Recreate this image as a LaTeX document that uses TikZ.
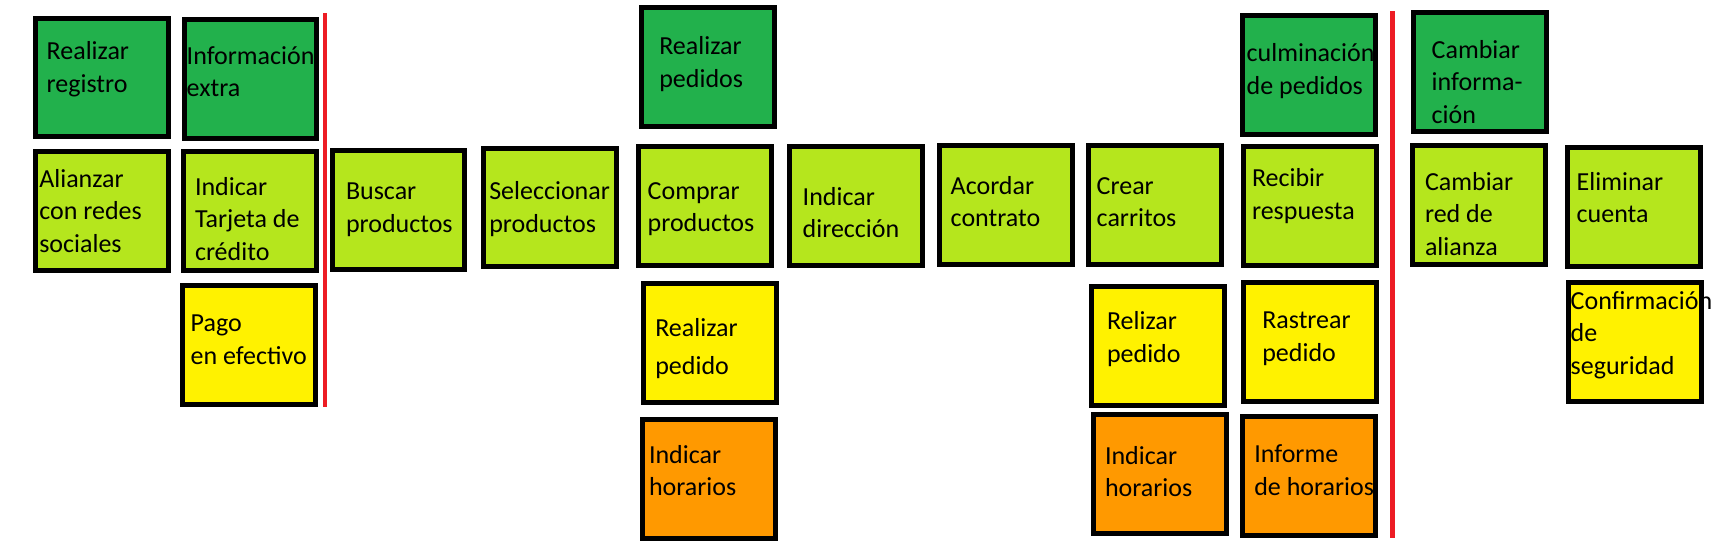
\documentclass[tikz,border=0pt]{standalone}
\usepackage{fontspec}
\setmainfont{Carlito}
\definecolor{dkgreen}{HTML}{22B14C}
\definecolor{ltgreen}{HTML}{B5E61D}
\definecolor{stickyyellow}{HTML}{FFF200}
\definecolor{stickyorange}{HTML}{FF9900}
\definecolor{sepred}{HTML}{ED1C24}
\tikzset{
  card/.style={rectangle, draw=black, line width=5pt, inner sep=0pt, outer sep=0pt,
               minimum width=133pt, minimum height=119pt},
  dg/.style={card, fill=dkgreen},
  lg/.style={card, fill=ltgreen},
  yl/.style={card, fill=stickyyellow},
  og/.style={card, fill=stickyorange},
  rim/.style={draw=black, line width=5pt},
  txt/.style={anchor=base west, inner sep=0pt, outer sep=0pt, align=left,
              font=\fontsize{26}{32.5}\selectfont},
  wide/.style={font=\fontsize{26}{38.3}\selectfont},
  sepline/.style={draw=sepred, line width=4.5pt}
}
\begin{document}
\begin{tikzpicture}[x=1pt,y=-1pt]
\useasboundingbox (0,0) rectangle (1716,550);
\fill[white] (0,0) rectangle (1716,550);
% boxes
\node[dg] (reg) at (102,77.5) [minimum height=118pt] {};
\node[dg] (info) at (250.5,79) [minimum width=132pt] {};
\node[lg] (alian) at (102,211) {};
\node[lg] (tarj) at (250,211) {};
\node[yl] (pago) at (249,345) {};
\node[lg] (buscar) at (398.5,210) [minimum width=132pt] {};
\node[lg] (selec) at (550,207.5) [minimum height=118pt] {};
\node[dg] (rpedidos) at (708,67) {};
\node[lg] (comprar) at (705,206) {};
\node[yl] (rpedido) at (710,343) {};
\node[og] (ihor1) at (709,479) {};
\node[lg] (idir) at (856,206) {};
\node[lg] (acordar) at (1006,205) {};
\node[lg] (crear) at (1155,205) {};
\node[yl] (relizar) at (1158,346) {};
\node[og] (ihor2) at (1160,474) {};
\node[dg] (culm) at (1309,75) {};
\node[lg] (recibir) at (1310,206) {};
\node[yl] (rastrear) at (1310,342) {};
\node[og] (informe) at (1309,476) {};
\node[dg] (cinfo) at (1480,72) {};
\node[lg] (cred) at (1479,205) {};
\node[lg] (elim) at (1634,207) {};
\node[yl] (confirm) at (1635,342) {};
% separators
\coordinate (s1t) at (325,13);
\coordinate (s1b) at (325,407);
\coordinate (s2t) at (1392.7,11);
\coordinate (s2b) at (1392.7,538);
\draw[sepline] (s1t) -- (s1b);
\draw[sepline] (s2t) -- (s2b);
% texts (anchored at the baseline of the last line)
\node[txt] (treg) at (46.7,92) {Realizar\\registro};
\node[txt] (tinfo) at (186.7,96.7) {Información\\extra};
\node[txt] (talian) at (39.3,252.3) {Alianzar\\con redes\\sociales};
\node[txt] (ttarj) at (195,260) {Indicar\\Tarjeta de\\crédito};
\node[txt] (tpago) at (190.7,364.3) {Pago\\en efectivo};
\node[txt] (tbuscar) at (346,232.3) {Buscar\\productos};
\node[txt] (tselec) at (489.3,232.3) {Seleccionar\\productos};
\node[txt] (trpedidos) at (659.3,87.3) {Realizar\\pedidos};
\node[txt] (tcomprar) at (647.7,231.7) {Comprar\\productos};
\node[txt,wide] (trpedido) at (655.3,374.3) {Realizar\\pedido};
\node[txt] (tihor1) at (649,495.7) {Indicar\\horarios};
\node[txt] (tidir) at (802.7,237.7) {Indicar\\dirección};
\node[txt] (tacordar) at (950.7,226.7) {Acordar\\contrato};
\node[txt] (tcrear) at (1096.7,226.7) {Crear\\carritos};
\node[txt] (trelizar) at (1107,362.3) {Relizar\\pedido};
\node[txt] (tihor2) at (1105,496.7) {Indicar\\horarios};
\node[txt] (tculm) at (1246.7,94.3) {culminación\\de pedidos};
\node[txt] (trecibir) at (1252,219.3) {Recibir\\respuesta};
\node[txt] (trastrear) at (1262.3,361) {Rastrear\\pedido};
\node[txt] (tinforme) at (1254.3,495) {Informe\\de horarios};
\node[txt] (tcinfo) at (1431.7,123.3) {Cambiar\\informa-\\ción};
\node[txt] (tcred) at (1425,255) {Cambiar\\red de\\alianza};
\node[txt] (telim) at (1576.7,222.7) {Eliminar\\cuenta};
\node[txt] (tconfirm) at (1570.7,374.3) {Confirmación\\de\\seguridad};
% borders that cover overflowing text
\draw[rim] (info.north west) rectangle (info.south east);
\draw[rim] (culm.north west) rectangle (culm.south east);
\draw[rim] (informe.north west) rectangle (informe.south east);
\end{tikzpicture}
\end{document}
